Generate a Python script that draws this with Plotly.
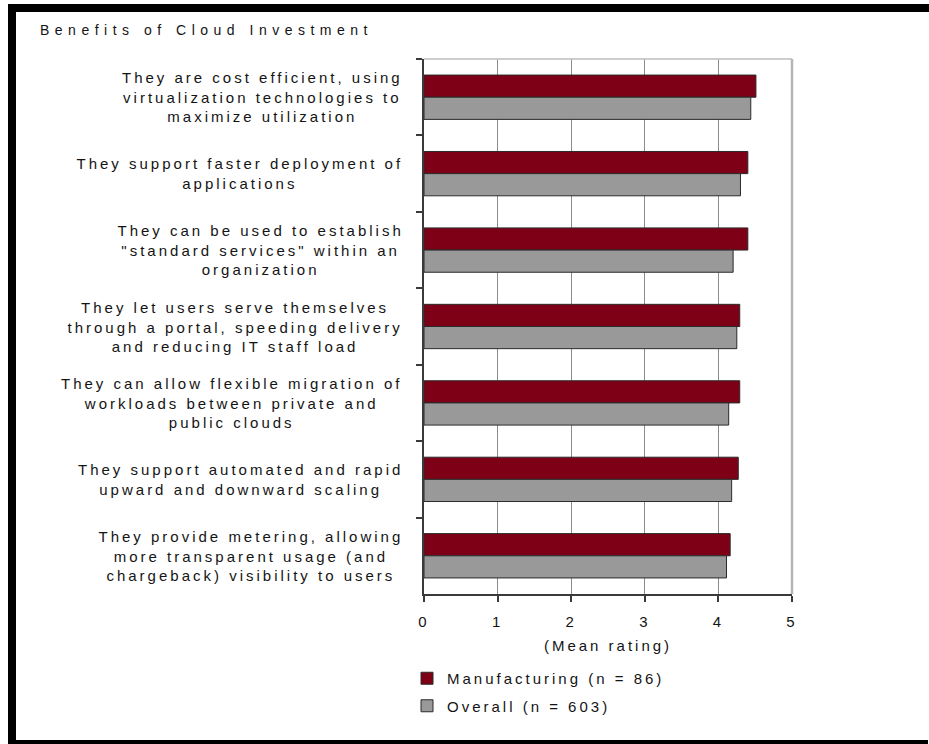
import plotly.graph_objects as go

# Survey items (top to bottom) and mean ratings per respondent group
categories = [
    "They are cost efficient, using<br>virtualization technologies to<br>maximize utilization",
    "They support faster deployment of<br>applications",
    "They can be used to establish<br>\"standard services\" within an<br>organization",
    "They let users serve themselves<br>through a portal, speeding delivery<br>and reducing IT staff load",
    "They can allow flexible migration of<br>workloads between private and<br>public clouds",
    "They support automated and rapid<br>upward and downward scaling",
    "They provide metering, allowing<br>more transparent usage (and<br>chargeback) visibility to users",
]
manufacturing = [4.51, 4.40, 4.40, 4.29, 4.29, 4.27, 4.16]
overall = [4.44, 4.30, 4.20, 4.25, 4.14, 4.18, 4.11]
series_names = ["Manufacturing (n = 86)", "Overall (n = 603)"]
x_ticks = [0, 1, 2, 3, 4, 5]
x_title = "(Mean rating)"
chart_title = "Benefits of Cloud Investment"

# Canvas and plot-area geometry (pixels)
W, H = 929, 744
L, R, T, B = 424, 137, 59, 150
PW, PH = W - L - R, H - T - B


def px_x(px):
    return (px - L) / PW


def px_y(py):
    return (H - B - py) / PH


LETTER_SPACING = 3      # extra tracking applied to chart text (px)
TITLE_SPACING = 5.5
FONT = "Liberation Sans, Arial, sans-serif"
TEXT = "#141414"
AXIS = "#3a3a3a"
EDGE = "#2b2b2b"

fig = go.Figure()
fig.add_trace(go.Bar(
    y=categories, x=manufacturing, orientation="h", name=series_names[0],
    legendgroup="manufacturing",
    marker=dict(color="#7d0016", line=dict(color=EDGE, width=1)),
))
fig.add_trace(go.Bar(
    y=categories, x=overall, orientation="h", name=series_names[1],
    legendgroup="overall",
    marker=dict(color="#999999", line=dict(color=EDGE, width=1)),
))

# Category labels: centred multi-line blocks right-aligned against the axis
for cat in categories:
    longest = max(len(line) for line in cat.split("<br>"))
    fig.add_annotation(
        x=0, xref="paper", y=cat, yref="y", text=cat,
        xanchor="right", yanchor="middle", align="center", showarrow=False,
        xshift=-19 - LETTER_SPACING * longest / 2,
        font=dict(family=FONT, size=15, color=TEXT),
    )

shapes = [
    # heavy black frame (top and left edges sit on the canvas)
    dict(type="rect", xref="paper", yref="paper",
         x0=px_x(12), x1=px_x(W + 40), y0=px_y(H + 4), y1=px_y(8),
         fillcolor="rgba(0,0,0,0)", line=dict(color="black", width=8)),
    # bottom edge of the frame, just inside the canvas
    dict(type="line", xref="paper", yref="paper",
         x0=px_x(8), x1=px_x(W - 1), y0=px_y(H - 2), y1=px_y(H - 2),
         line=dict(color="black", width=4)),
    # light plot-area border on the top and right
    dict(type="line", xref="paper", yref="paper", x0=0, x1=1, y0=1, y1=1,
         line=dict(color="#bdbdbd", width=1.5)),
    dict(type="line", xref="paper", yref="paper", x0=1, x1=1, y0=0, y1=1,
         line=dict(color="#b5b5b5", width=2.5)),
]

fig.update_layout(
    width=W, height=H,
    margin=dict(l=L, r=R, t=T, b=B, pad=0),
    paper_bgcolor="white", plot_bgcolor="white",
    barmode="group", bargap=0.42, bargroupgap=0,
    font=dict(family=FONT, size=15, color=TEXT),
    title=dict(
        text=chart_title, xref="container", yref="container",
        x=40 / W, xanchor="left", y=1 - 30 / H, yanchor="middle",
        font=dict(family=FONT, size=14, color=TEXT),
    ),
    xaxis=dict(
        range=[0, 5], tickvals=x_ticks, showgrid=True, gridcolor="#8c8c8c",
        gridwidth=1, zeroline=False, showline=True, linecolor=AXIS,
        linewidth=1.5, ticks="outside", ticklen=6, tickcolor=AXIS,
        tickwidth=1.5, tickfont=dict(size=15, color=TEXT),
        ticklabelstandoff=7,
        title=dict(text=x_title, font=dict(size=15, color=TEXT), standoff=12),
    ),
    yaxis=dict(
        autorange="reversed", showticklabels=False, showgrid=False,
        zeroline=False, showline=True, linecolor=AXIS, linewidth=1.5,
        ticks="outside", tickson="boundaries", ticklen=6, tickcolor=AXIS,
        tickwidth=1.5,
    ),
    legend=dict(
        x=px_x(407), y=px_y(662), xanchor="left", yanchor="top",
        traceorder="grouped", tracegroupgap=5, bgcolor="rgba(0,0,0,0)",
        itemwidth=30, font=dict(size=15, color=TEXT),
    ),
    shapes=shapes,
    showlegend=True,
)

# Widen the tracking of all chart text once the figure is drawn; the legend
# clip box was sized for untracked text, so lift its clipping.
tracking_css = (
    "var s=document.createElement('style');"
    "s.textContent='.main-svg text{letter-spacing:%spx}"
    ".main-svg .gtitle{letter-spacing:%spx}"
    ".main-svg .legend .scrollbox{clip-path:none !important}';"
    "document.head.appendChild(s);" % (LETTER_SPACING, TITLE_SPACING)
)

fig.write_html("out.html", post_script=tracking_css)
